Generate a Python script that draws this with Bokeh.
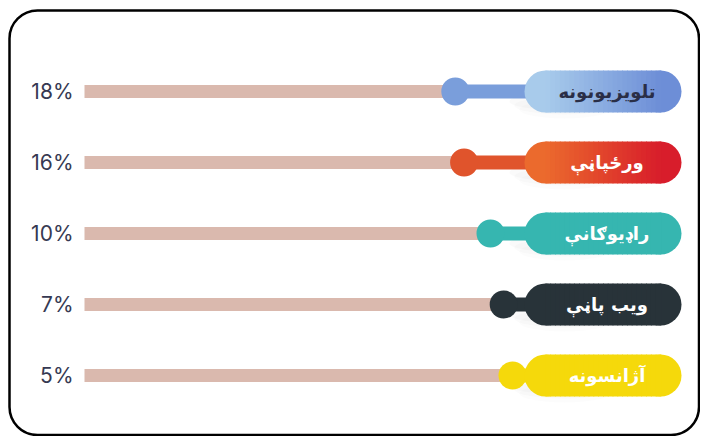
from bokeh.plotting import figure
from bokeh.models import Range1d, ColumnDataSource
from bokeh.core.properties import value
from bokeh.embed import file_html
from bokeh.resources import INLINE

# ---- data ----
categories = ["تلویزیونونه", "ورځپاڼې", "راډیوګانې", "ویب پاڼې", "آژانسونه"]
shares = [18, 16, 10, 7, 5]
share_labels = ["18%", "16%", "10%", "7%", "5%"]
dot_colors = ["#7a9edb", "#e0542c", "#36b6b0", "#283339", "#f5d90b"]
pill_left_colors = ["#a8cbeb", "#eb6a2d", "#36b6b0", "#283339", "#f5d90b"]
pill_right_colors = ["#6d8ed7", "#d81d2b", "#36b6b0", "#283339", "#f5d90b"]
text_colors = ["#2a2e47", "#ffffff", "#ffffff", "#ffffff", "#ffffff"]

# ---- layout (pixels) ----
W, H = 700, 436
ROW0, GAP = 91, 71
TRACK_LEFT = 84
PILL_L, PILL_R, PILL_H = 524, 681, 42
PX_PER_PCT, ZERO_PX = 4.4, 534.0

n = len(categories)
ys = [H - (ROW0 + i * GAP) for i in range(n)]

p = figure(width=W, height=H, output_backend="svg", toolbar_location=None,
           x_range=Range1d(0, W), y_range=Range1d(0, H), min_border=0)
p.axis.visible = False
p.grid.visible = False
p.outline_line_color = None
p.background_fill_color = "#ffffff"
p.border_fill_color = "#ffffff"

# value scale: share percent -> horizontal position (decreasing to the right)
p.extra_x_ranges = {"val": Range1d(start=ZERO_PX / PX_PER_PCT, end=(ZERO_PX - W) / PX_PER_PCT)}
track_start_val = (ZERO_PX - TRACK_LEFT) / PX_PER_PCT

# frame
p.quad(left=9, right=698.5, top=H - 10, bottom=1.5, fill_color=None,
       line_color="#000000", line_width=2.5, border_radius=28)

src = ColumnDataSource(dict(y=ys, v=shares, lab=share_labels, cat=categories,
                            dc=dot_colors, tc=text_colors,
                            ts=[track_start_val] * n, zero=[0] * n))

# soft shadows under pills
for k, (dy, a) in enumerate([(10, 0.04), (14, 0.035), (18, 0.025)]):
    p.ellipse(x=PILL_L + 40, y=[y - dy for y in ys], width=110 - k * 10, height=18,
              fill_color="#888888", fill_alpha=a, line_color=None)

# track
p.hbar(y="y", left="ts", right="v", height=13, fill_color="#dab9ae",
       line_color=None, source=src, x_range_name="val")
# connector
p.hbar(y="y", left="v", right="zero", height=14, fill_color="dc",
       line_color=None, source=src, x_range_name="val")
# dot
p.scatter(x="v", y="y", size=28, fill_color="dc", line_color=None,
          source=src, x_range_name="val")

# pills with horizontal gradient
r = PILL_H / 2
nseg = 24
def mix(c1, c2, t):
    a = [int(c1[i:i + 2], 16) for i in (1, 3, 5)]
    b = [int(c2[i:i + 2], 16) for i in (1, 3, 5)]
    return "#%02x%02x%02x" % tuple(round(a[j] + (b[j] - a[j]) * t) for j in range(3))

sl, sr, sy, sc = [], [], [], []
cx, cy, cc = [], [], []
for i in range(n):
    x0, x1 = PILL_L + r, PILL_R - r
    step = (x1 - x0) / nseg
    for k in range(nseg):
        sl.append(x0 + k * step)
        sr.append(x0 + (k + 1) * step + 0.8)
        sy.append(ys[i])
        sc.append(mix(pill_left_colors[i], pill_right_colors[i], (k + 0.5) / nseg))
    cx += [x0, x1]
    cy += [ys[i], ys[i]]
    cc += [pill_left_colors[i], pill_right_colors[i]]
p.scatter(x=cx, y=cy, size=PILL_H, fill_color=cc, line_color=None)
p.hbar(y=sy, left=sl, right=sr, height=PILL_H, fill_color=sc, line_color=None)

# labels
p.text(x=(PILL_L + PILL_R) / 2 + 4, y="y", text="cat", text_color="tc", source=src,
       text_font=value("DejaVu Sans"), text_font_style="bold", text_font_size="18px",
       text_align="center", text_baseline="middle")
p.text(x=73, y="y", text="lab", source=src, text_color="#363952",
       text_font=value("Inter"), text_font_size="21px",
       text_align="right", text_baseline="middle")

open("out.html", "w").write(file_html(p, INLINE))
